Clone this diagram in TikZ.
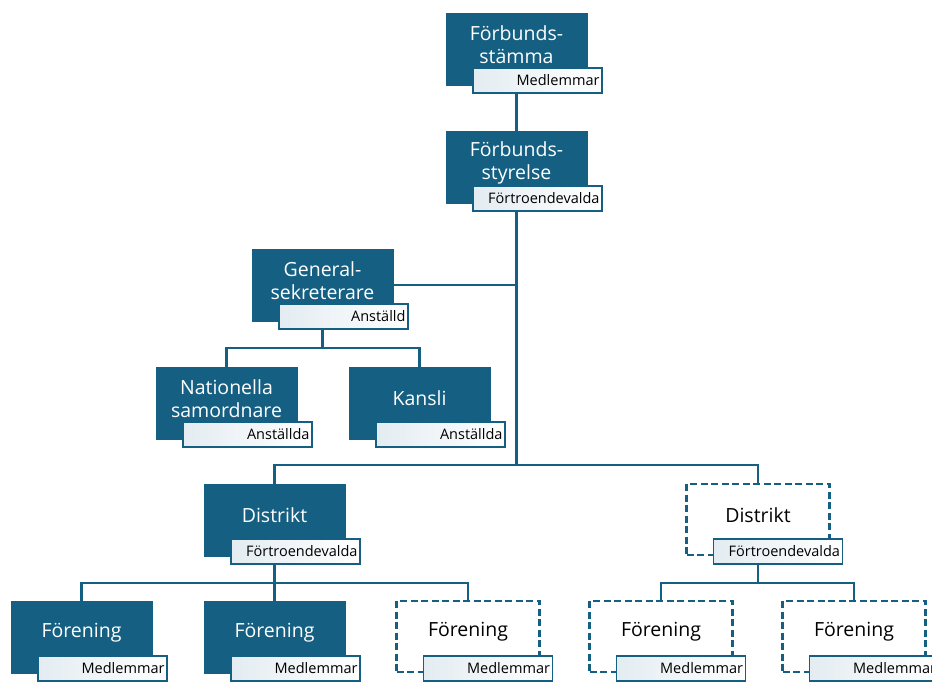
\documentclass[tikz,border=0pt]{standalone}
\usepackage{fontspec}
\setmainfont{Open Sans}
\definecolor{acc}{HTML}{156082}
\definecolor{labl}{HTML}{E3ECF1}
\tikzset{
  box/.style={fill=acc, draw=acc, line width=0.5pt, minimum width=141pt, minimum height=72pt, inner sep=0pt, outer sep=0pt, anchor=north},
  dbox/.style={fill=white, draw=acc, dash pattern=on 7pt off 3.5pt, line width=2.2pt, minimum width=143pt, minimum height=71pt, inner sep=0pt, outer sep=0pt, anchor=north},
  boxtext/.style={text=white, font=\fontsize{19.5}{23}\selectfont, align=center, inner sep=0pt},
  dboxtext/.style={text=black, font=\fontsize{19.5}{23}\selectfont, align=center, inner sep=0pt},
  lab/.style={draw=acc, line width=1.8pt, left color=labl, middle color=labl!60, right color=white, minimum height=25pt, text width=124pt, inner xsep=2.5pt, inner ysep=0pt, outer sep=0pt, anchor=north west, align=right, font=\fontsize{14.5}{16}\selectfont},
  conn/.style={draw=acc, line width=2.4pt}
}
\newcommand\orgbox[6]{%
  \node[#2] (#1) at (#3,#4) {};
  \node[#2text] (#1-t) at ([yshift=4.5pt]#1.center) {#5};
  \node[lab] (#1-l) at ([xshift=27pt,yshift=-55pt]#1.north west) {#6};
}
\begin{document}
\begin{tikzpicture}[x=1pt,y=-1pt]
\useasboundingbox (0,0) rectangle (932,681);
\clip (0,0) rectangle (932,681);
\coordinate (b1) at (0,465);
\coordinate (b2) at (0,348);
\coordinate (b3) at (0,583);
\orgbox{fs}{box}{516.5}{13}{Förbunds-\\stämma}{Medlemmar}
\orgbox{sty}{box}{516.5}{131}{Förbunds-\\styrelse}{Förtroendevalda}
\orgbox{gs}{box}{322.5}{249}{General-\\sekreterare}{Anställd}
\orgbox{nat}{box}{226.5}{367}{Nationella\\samordnare}{Anställda}
\orgbox{kan}{box}{419.5}{367}{Kansli}{Anställda}
\orgbox{d1}{box}{274.5}{484}{Distrikt}{Förtroendevalda}
\orgbox{d2}{dbox}{758}{484}{Distrikt}{Förtroendevalda}
\orgbox{f1}{box}{81.5}{601}{Förening}{Medlemmar}
\orgbox{f2}{box}{274.5}{601}{Förening}{Medlemmar}
\orgbox{f3}{dbox}{468}{601}{Förening}{Medlemmar}
\orgbox{f4}{dbox}{661}{601}{Förening}{Medlemmar}
\orgbox{f5}{dbox}{854}{601}{Förening}{Medlemmar}
% connectors
\draw[conn] (fs.center |- fs-l.south) -- (sty.north);
\draw[conn] (sty.center |- sty-l.south) -- (sty.center |- b1);
\draw[conn] (gs.east) -- (gs.east -| sty.center);
\draw[conn] (gs.center |- gs-l.south) -- (gs.center |- b2);
\draw[conn] (nat.north) |- (kan.north |- b2) -- (kan.north);
\draw[conn] (d1.north) |- (d2.north |- b1) -- (d2.north);
\draw[conn] (d1.center |- d1-l.south) -- (d1.center |- b3);
\draw[conn] (f1.north) |- (f3.north |- b3) -- (f3.north);
\draw[conn] (f2.north) -- (f2.north |- b3);
\draw[conn] (d2.center |- d2-l.south) -- (d2.center |- b3);
\draw[conn] (f4.north) |- (f5.north |- b3) -- (f5.north);
\end{tikzpicture}
\end{document}
